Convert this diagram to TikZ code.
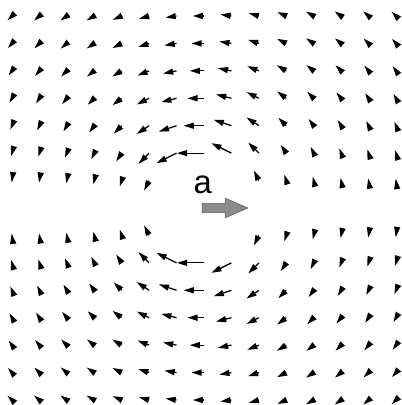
\documentclass[tikz,border=0pt]{standalone}
\usepackage{fontspec}
\newfontfamily\labelfont{Liberation Sans}
\usepackage{tikz}
\usetikzlibrary{arrows.meta, positioning, calc}

\begin{document}
\begin{tikzpicture}[
    fieldarrow/.style={-{Triangle[length=3.7mm, width=2.2mm]}, line width=1.3pt},
    accelarrow/.style={fill=black!45, draw=black!65, line width=0.6pt},
    acclabel/.style={font=\labelfont\fontsize{34}{34}\selectfont, inner sep=0pt},
  ]

    \useasboundingbox (-7.437,-7.182) rectangle (7.218,7.583);

    % Field of the accelerated charge
    \foreach \i in {-7,...,7}{
      \foreach \j in {-7,...,7}{
        \pgfmathtruncatemacro{\rsq}{\i*\i+\j*\j}
        \ifnum\j=0 \else
        \ifnum\rsq>3
          \pgfmathsetmacro{\rad}{sqrt(\rsq)}
          \pgfmathsetmacro{\arrlen}{1.6*abs(\j)/pow(\rad,1.7)}
          \pgfmathsetmacro{\dx}{-\arrlen*abs(\j)/\rad}
          \pgfmathsetmacro{\dy}{\arrlen*sign(\j)*\i/\rad}
          \draw[fieldarrow] (\i,\j) -- ++(\dx,\dy);
        \fi
        \fi
      }
    }

    % Acceleration
    \filldraw[accelarrow] (-0.07,-0.17) -- (0.77,-0.17) -- (0.77,-0.36) -- (1.6,0)
      -- (0.77,0.36) -- (0.77,0.17) -- (-0.07,0.17) -- cycle;
    \node[acclabel] (acc) at (-0.05,0.85) {a};

  \end{tikzpicture}
\end{document}
